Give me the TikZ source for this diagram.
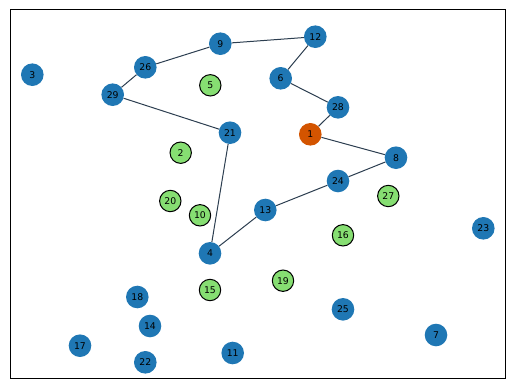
\documentclass[tikz,border=0pt]{standalone}
\usepackage{fontspec}
\setmainfont{DejaVu Sans}
\definecolor{nblue}{RGB}{31,119,180}
\definecolor{ngreen}{RGB}{134,222,114}
\definecolor{norange}{RGB}{211,84,0}
\definecolor{nedge}{RGB}{44,62,80}
\begin{document}
\begin{tikzpicture}[x=1pt,y=-1pt,
  bnode/.style={circle,fill=nblue,draw=none,minimum size=22.6pt,inner sep=0pt,font=\fontsize{9.3}{11}\selectfont},
  gnode/.style={circle,fill=ngreen,draw=black,line width=1pt,minimum size=21.4pt,inner sep=0pt,font=\fontsize{9.3}{11}\selectfont},
  onode/.style={circle,fill=norange,draw=none,minimum size=22.6pt,inner sep=0pt,font=\fontsize{9.3}{11}\selectfont},
  edge/.style={draw=nedge,line width=1pt}]
\useasboundingbox (0,0) rectangle (515,389);
\draw[black,line width=0.9pt] (10.5,9.5) rectangle (505.5,378.5);
% nodes
\node[bnode] (n3) at (32.3,74.7) {3};
\node[bnode] (n26) at (145.3,67.3) {26};
\node[bnode] (n9) at (220.3,43.7) {9};
\node[bnode] (n29) at (112.7,94.7) {29};
\node[gnode] (n5) at (210.3,85.3) {5};
\node[bnode] (n21) at (230,132.7) {21};
\node[gnode] (n2) at (180.7,152.7) {2};
\node[bnode] (n12) at (315.3,36.7) {12};
\node[bnode] (n6) at (280.7,78.3) {6};
\node[bnode] (n28) at (338,107.3) {28};
\node[onode] (n1) at (310.3,134.3) {1};
\node[bnode] (n8) at (396,157.7) {8};
\node[bnode] (n24) at (338,181) {24};
\node[gnode] (n27) at (388.3,196) {27};
\node[gnode] (n20) at (170.3,201) {20};
\node[gnode] (n10) at (200,215.3) {10};
\node[bnode] (n4) at (210,253.3) {4};
\node[gnode] (n15) at (210,290) {15};
\node[bnode] (n18) at (137.3,297) {18};
\node[bnode] (n14) at (150,326) {14};
\node[bnode] (n17) at (80,345.7) {17};
\node[bnode] (n22) at (145.3,362.3) {22};
\node[bnode] (n11) at (232.7,353) {11};
\node[bnode] (n13) at (265.3,210) {13};
\node[gnode] (n16) at (343,235.3) {16};
\node[bnode] (n23) at (483.3,228.3) {23};
\node[gnode] (n19) at (283,280.7) {19};
\node[bnode] (n25) at (343,309.3) {25};
\node[bnode] (n7) at (436,335) {7};
% edges
\path[edge] (n9) -- (n12);
\path[edge] (n9) -- (n26);
\path[edge] (n26) -- (n29);
\path[edge] (n29) -- (n21);
\path[edge] (n21) -- (n4);
\path[edge] (n4) -- (n13);
\path[edge] (n13) -- (n24);
\path[edge] (n24) -- (n8);
\path[edge] (n8) -- (n1);
\path[edge] (n1) -- (n28);
\path[edge] (n28) -- (n6);
\path[edge] (n6) -- (n12);
\end{tikzpicture}
\end{document}
